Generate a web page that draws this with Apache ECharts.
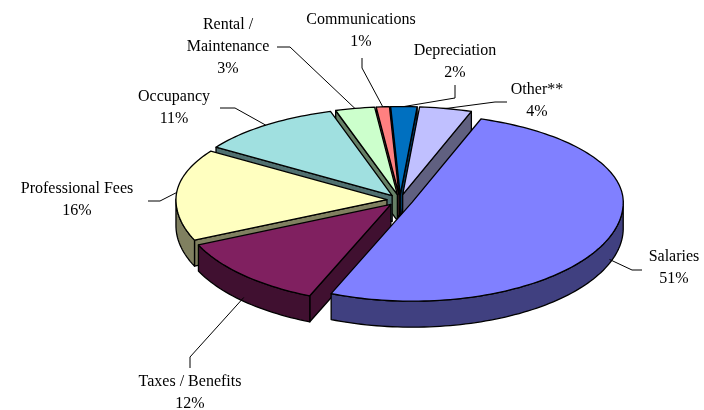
<!DOCTYPE html>
<html>
<head>
<meta charset="utf-8">
<script src="https://cdn.jsdelivr.net/npm/echarts@6/dist/echarts.min.js"></script>
<style>
  html, body { margin: 0; padding: 0; background: #fff; }
  #chart { width: 704px; height: 410px; }
</style>
</head>
<body>
<div id="chart"></div>
<script>
var categories = ['Salaries', 'Taxes / Benefits', 'Professional Fees', 'Occupancy',
  'Rental / Maintenance', 'Communications', 'Depreciation', 'Other**'];
var shares = [51, 12, 16, 11, 3, 1, 2, 4];
var topColors = ['#8080ff', '#802060', '#ffffc0', '#a0e0e0', '#ccffcc', '#ff8080', '#0070c0', '#c0c0ff'];
var sideColors = ['#404080', '#401030', '#808060', '#507070', '#668066', '#804040', '#003860', '#606080'];

// label layout: text centre, then leader start and knee (pixels)
var labelPos = [[674, 268], [190, 393], [77, 200], [174, 108], [228, 47], [361, 31], [455, 62], [537, 101]];
var leaderFrom = [[642, 270], [190, 368], [148, 201], [220, 108], [277, 47], [362, 58], [455, 85], [507, 102]];
var leaderKnee = [[632, 270], [190, 357], [160, 201], [235, 108], [290, 47], [362, 68], [455, 98], [495, 102]];

var startAngle = 71;
var tiltBack = 88 / 211;
var tiltFront = 99 / 211;
var depth = 26;
var explode = 0.062;

// cumulative start / end of each slice on the angle axis
var slices = [];
var acc = 0;
shares.forEach(function (v, i) {
  slices.push([acc, acc + v, i]);
  acc += v;
});

// paint order: slices reaching nearer the viewer are drawn later
function frontReach (s) {
  var m = -Infinity;
  for (var k = 0; k <= 20; k++) {
    var a = (startAngle - 3.6 * (s[0] + (s[1] - s[0]) * k / 20)) * Math.PI / 180;
    m = Math.max(m, -Math.sin(a));
  }
  var mid = (startAngle - 3.6 * (s[0] + s[1]) / 2) * Math.PI / 180;
  return Math.max(m, 0) - Math.sin(mid) * explode;
}
var order = slices.map(function (s, i) { return i }).sort(function (a, b) {
  return frontReach(slices[a]) - frontReach(slices[b]);
});
var rank = [];
order.forEach(function (idx, r) { rank[idx] = r });

function renderItem (params, api) {
  var i = api.value(2);
  var start = api.value(0);
  var end = api.value(1);
  var mid = (start + end) / 2;
  var cx = params.coordSys.cx;
  var cy = params.coordSys.cy;

  function flat (r, v) {
    var p = api.coord([r, v]);
    var t = p[1] > cy ? tiltFront : tiltBack;
    return [p[0], cy + (p[1] - cy) * t];
  }
  var c0 = flat(explode, mid);
  var ox = c0[0] - cx;
  var oy = c0[1] - cy;
  function rim (v) {
    var p = flat(1, v);
    return [p[0] + ox, p[1] + oy];
  }
  function down (p) { return [p[0], p[1] + depth]; }

  var steps = Math.max(2, Math.ceil((end - start) / 0.4));
  var arc = [];
  for (var k = 0; k <= steps; k++) arc.push(rim(start + (end - start) * k / steps));

  var z = rank[i] * 10;
  var lineStyle = { stroke: '#000', lineWidth: 1.3, lineJoin: 'round' };
  var side = Object.assign({ fill: sideColors[i] }, lineStyle);
  var children = [];

  function wall (pts) {
    var bottom = pts.map(down).reverse();
    children.push({
      type: 'polygon',
      z2: z + 1,
      shape: { points: pts.concat(bottom) },
      style: side
    });
  }

  // radial cut faces
  if (arc[0][0] < c0[0]) wall([c0, arc[0]]);
  if (c0[0] < arc[arc.length - 1][0]) wall([arc[arc.length - 1], c0]);

  // outer rim, only the part facing the viewer
  var run = [];
  for (var j = 0; j < arc.length - 1; j++) {
    if (arc[j + 1][0] < arc[j][0]) {
      if (!run.length) run.push(arc[j]);
      run.push(arc[j + 1]);
    } else if (run.length) {
      wall(run);
      run = [];
    }
  }
  if (run.length) wall(run);

  children.push({
    type: 'polygon',
    z2: z + 2,
    shape: { points: [c0].concat(arc) },
    style: Object.assign({ fill: topColors[i] }, lineStyle)
  });

  // leader line to the rim at mid angle
  var e = rim(mid);
  var e1 = rim(mid - 0.1);
  var e2 = rim(mid + 0.1);
  if (e2[0] < e1[0]) e = [e[0], e[1] + depth * 0.85];
  children.push({
    type: 'polyline',
    z2: 200,
    shape: { points: [leaderFrom[i], leaderKnee[i], e] },
    style: { stroke: '#000', lineWidth: 1, fill: null }
  });

  var name = categories[i].replace('Rental / ', 'Rental /\n');
  children.push({
    type: 'text',
    z2: 200,
    x: labelPos[i][0],
    y: labelPos[i][1],
    style: {
      text: name + '\n' + shares[i] + '%',
      fontFamily: 'Liberation Serif',
      fontSize: 16,
      lineHeight: 22,
      fill: '#000',
      align: 'center',
      verticalAlign: 'middle'
    }
  });

  return { type: 'group', children: children };
}

var chart = echarts.init(document.getElementById('chart'), null, { renderer: 'canvas' });
chart.setOption({
  animation: false,
  polar: { center: [400, 200], radius: 211 },
  angleAxis: {
    type: 'value',
    min: 0,
    max: 100,
    startAngle: startAngle,
    clockwise: true,
    show: false
  },
  radiusAxis: { type: 'value', min: 0, max: 1, show: false },
  series: [{
    type: 'custom',
    coordinateSystem: 'polar',
    renderItem: renderItem,
    data: slices
  }]
});
</script>
</body>
</html>
